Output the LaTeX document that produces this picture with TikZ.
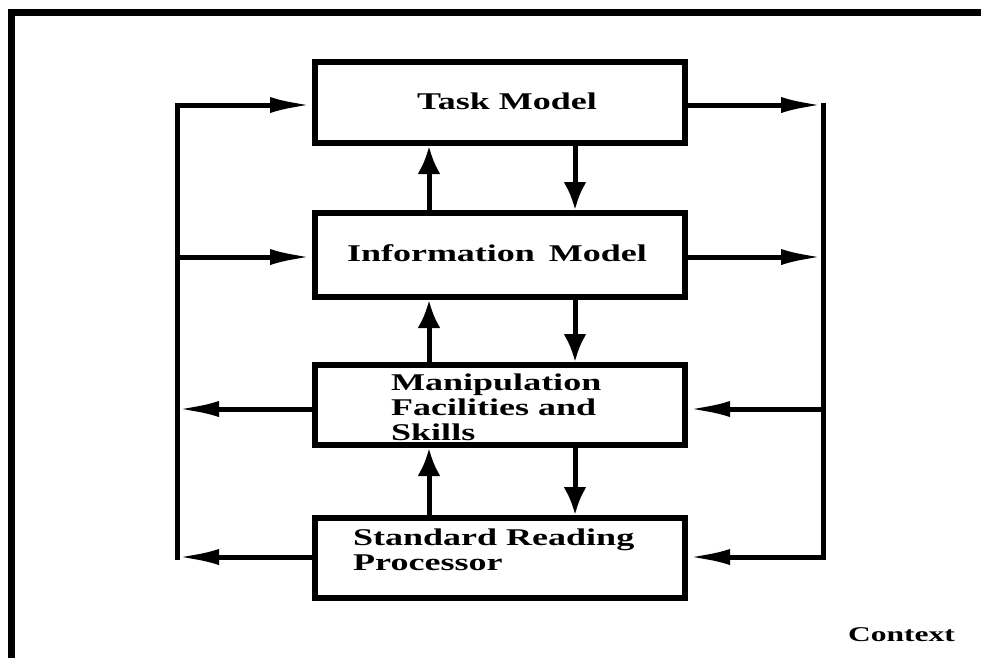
\documentclass[tikz,border=0pt]{standalone}
\usepackage{fontspec}
\usetikzlibrary{arrows.meta}
\newfontfamily\diagfont[FakeStretch=1.5]{Liberation Serif}
\tikzset{
  box/.style={draw, line width=6pt, inner sep=0pt, minimum width=370pt},
  lbl/.style={inner sep=0pt, font=\diagfont\bfseries\fontsize{24}{25}\selectfont},
  wire/.style={line width=5pt, line cap=rect},
  harrow/.style={line width=5pt, -{Latex[length=42pt,width=16pt]}},
  varrow/.style={line width=5pt, -{Latex[length=28pt,width=23pt]}}
}
\begin{document}
\begin{tikzpicture}[x=1pt,y=-1pt]
\useasboundingbox (0,0) rectangle (981,657);
% outer frame
\draw[line width=7pt] (11,670) -- (11,12) -- (995,12);
% boxes
\node[box, minimum height=81pt] (task)  at (500,102.5) {};
\node[box, minimum height=84pt] (info)  at (500,255) {};
\node[box, minimum height=80pt] (manip) at (500,405) {};
\node[box, minimum height=80pt] (srp)   at (500,558) {};
% texts
\node[lbl] (tasktxt) at (507,101) {Task Model};
\node[lbl] (infotxt) at (497,253) {Information\hspace{5pt} Model};
\node[lbl, anchor=north west, align=left] (maniptxt) at (391,374) {Manipulation\\Facilities and\\Skills};
\node[lbl, anchor=north west, align=left] (srptxt) at (353,529) {Standard Reading\\Processor};
\node[inner sep=0pt, anchor=base west, font=\diagfont\bfseries\fontsize{21}{22}\selectfont] (ctx) at (848,641) {Context};
% bus coordinates
\coordinate (L1) at (177,105);
\coordinate (L2) at (177,257);
\coordinate (L3) at (177,409);
\coordinate (L4) at (177,557);
\coordinate (R1) at (823,105);
\coordinate (R2) at (823,257);
\coordinate (R3) at (823,409);
\coordinate (R4) at (823,557);
\coordinate (U) at (429,0);
\coordinate (D) at (575,0);
% buses
\draw[wire] (L1) -- (L4);
\draw[wire] (R1) -- (R4);
% horizontal arrows
\draw[harrow] (L1) -- (L1 -| task.west);
\draw[harrow] (L2) -- (L2 -| info.west);
\draw[harrow] (L3 -| manip.west) -- (L3);
\draw[harrow] (L4 -| srp.west) -- (L4);
\draw[harrow] (R1 -| task.east) -- (R1);
\draw[harrow] (R2 -| info.east) -- (R2);
\draw[harrow] (R3) -- (R3 -| manip.east);
\draw[harrow] (R4) -- (R4 -| srp.east);
% vertical arrows
\draw[varrow] (info.north -| U) -- (task.south -| U);
\draw[varrow] (manip.north -| U) -- (info.south -| U);
\draw[varrow] (srp.north -| U) -- (manip.south -| U);
\draw[varrow] (task.south -| D) -- (info.north -| D);
\draw[varrow] (info.south -| D) -- (manip.north -| D);
\draw[varrow] (manip.south -| D) -- (srp.north -| D);
\end{tikzpicture}
\end{document}
